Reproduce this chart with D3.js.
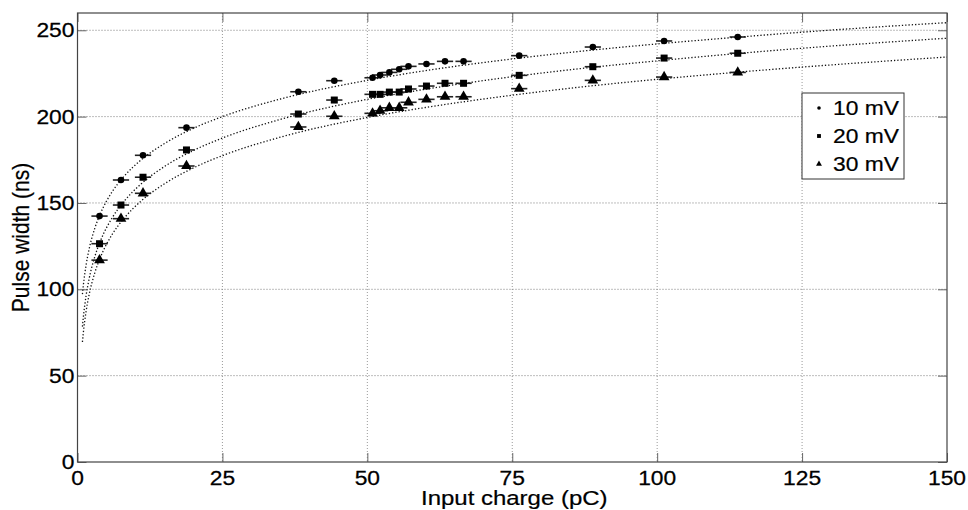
<!DOCTYPE html>
<html>
<head>
<meta charset="utf-8">
<script src="https://cdn.jsdelivr.net/npm/d3@7"></script>
<style>
  html, body { margin: 0; padding: 0; background: #fff; }
  svg { display: block; }
  text { font-family: "Liberation Sans", Arial, sans-serif; fill: #000; }
</style>
</head>
<body>
<svg id="chart" width="968" height="510"></svg>
<script>
// Input charge (pC) of each measurement
const charge = [3.8, 7.5, 11.3, 18.8, 38.1, 44.3, 50.9, 52.2, 53.8, 55.5, 57.1, 60.2, 63.4, 66.6, 76.2, 88.9, 101.2, 113.9];

// Measured pulse width (ns) for each threshold
const width10 = [142.4, 163.3, 177.6, 193.6, 214.4, 220.8, 222.5, 224.1, 225.6, 227.4, 229.1, 230.5, 232.0, 232.0, 235.3, 240.3, 243.8, 246.1];
const width20 = [126.4, 148.8, 164.9, 180.7, 201.5, 209.6, 212.9, 212.9, 214.2, 214.2, 216.0, 217.7, 219.3, 219.3, 223.9, 228.9, 233.9, 236.7];
const width30 = [116.9, 140.9, 155.6, 171.4, 194.0, 200.2, 201.9, 203.4, 205.1, 205.1, 208.3, 210.0, 211.5, 211.5, 216.2, 221.0, 222.9, 225.6];

// Horizontal uncertainty on the charge (pC)
const chargeErr = 1.4;

// Fitted trend curves, sampled along the charge axis
const fitCharge = [0.85, 1, 1.5, 2, 3, 4, 6, 8, 11, 15, 20, 25, 35, 50, 62, 75, 87, 100, 112, 125, 137, 150];
const fit10 = [97.2, 102.1, 114.4, 123.2, 135.5, 144.2, 156.6, 165.3, 175.0, 184.4, 193.2, 200.0, 210.2, 221.0, 227.6, 233.4, 237.9, 242.1, 245.5, 248.9, 251.7, 254.4];
const fit20 = [78.4, 83.6, 96.7, 106.0, 119.1, 128.4, 141.5, 150.8, 161.1, 171.1, 180.4, 187.6, 198.4, 210.0, 216.9, 223.1, 227.9, 232.3, 236.0, 239.6, 242.5, 245.4];
const fit30 = [69.5, 74.7, 87.6, 96.8, 109.7, 118.9, 131.9, 141.0, 151.2, 161.1, 170.3, 177.4, 188.1, 199.5, 206.3, 212.4, 217.2, 221.6, 225.2, 228.7, 231.6, 234.5];

const xTicks = [0, 25, 50, 75, 100, 125, 150];
const yTicks = [0, 50, 100, 150, 200, 250];
const seriesNames = ["10 mV", "20 mV", "30 mV"];

const series = [
  { name: seriesNames[0], values: width10, fit: fit10, shape: "circle" },
  { name: seriesNames[1], values: width20, fit: fit20, shape: "square" },
  { name: seriesNames[2], values: width30, fit: fit30, shape: "triangle" }
];

const svg = d3.select("#chart");
const plotL = 77.5, plotR = 947, plotT = 13, plotB = 462;
const x = d3.scaleLinear().domain([0, 150]).range([plotL, plotR]);
const y = d3.scaleLinear().domain([0, 260]).range([plotB, plotT]);
const stretch = 1.17;

// dotted grid
const grid = svg.append("g");
grid.selectAll("line.gx").data(xTicks.slice(1, -1)).join("line")
  .attr("x1", d => x(d)).attr("x2", d => x(d))
  .attr("y1", plotT).attr("y2", plotB)
  .attr("stroke", "#9a9a9a").attr("stroke-width", 1).attr("stroke-dasharray", "1,2");
grid.selectAll("line.gy").data(yTicks.slice(1)).join("line")
  .attr("x1", plotL).attr("x2", plotR)
  .attr("y1", d => y(d)).attr("y2", d => y(d))
  .attr("stroke", "#7a7a7a").attr("stroke-width", 1).attr("stroke-dasharray", "1,2");

// axes drawn with inward ticks on all four sides
const tickLen = 9;
function styleAxis(g) {
  g.select(".domain").remove();
  g.selectAll("line").attr("stroke", "#666");
}
svg.append("g").attr("transform", `translate(0,${plotB})`)
  .call(d3.axisBottom(x).tickValues(xTicks).tickSizeInner(-tickLen).tickSizeOuter(0).tickFormat(""))
  .call(styleAxis);
svg.append("g").attr("transform", `translate(0,${plotT})`)
  .call(d3.axisTop(x).tickValues(xTicks).tickSizeInner(-tickLen).tickSizeOuter(0).tickFormat(""))
  .call(styleAxis);
svg.append("g").attr("transform", `translate(${plotL},0)`)
  .call(d3.axisLeft(y).tickValues(yTicks).tickSizeInner(-tickLen).tickSizeOuter(0).tickFormat(""))
  .call(styleAxis);
svg.append("g").attr("transform", `translate(${plotR},0)`)
  .call(d3.axisRight(y).tickValues(yTicks).tickSizeInner(-tickLen).tickSizeOuter(0).tickFormat(""))
  .call(styleAxis);

// tick labels
svg.append("g").selectAll("text").data(xTicks).join("text")
  .attr("transform", d => `translate(${x(d)},${plotB + 23}) scale(${stretch},1)`)
  .attr("text-anchor", "middle").attr("font-size", 19.5)
  .attr("stroke", "#000").attr("stroke-width", 0.25)
  .text(d => d);
svg.append("g").selectAll("text").data(yTicks).join("text")
  .attr("transform", d => `translate(${plotL - 3},${y(d) + 7}) scale(${stretch},1)`)
  .attr("text-anchor", "end").attr("font-size", 19.5)
  .attr("stroke", "#000").attr("stroke-width", 0.25)
  .text(d => d);

// axis titles
svg.append("text")
  .attr("transform", `translate(${(plotL + plotR) / 2 + 2},${505}) scale(${stretch},1)`)
  .attr("text-anchor", "middle").attr("font-size", 20.5)
  .attr("stroke", "#000").attr("stroke-width", 0.2)
  .text("Input charge (pC)");
svg.append("text")
  .attr("transform", `translate(${29},${(plotT + plotB) / 2}) scale(${stretch},1) rotate(-90)`)
  .attr("text-anchor", "middle").attr("font-size", 21)
  .attr("stroke", "#000").attr("stroke-width", 0.2)
  .text("Pulse width (ns)");

// fitted curves
const line = d3.line().x(d => x(d[0])).y(d => y(d[1])).curve(d3.curveMonotoneX);
svg.append("g").selectAll("path").data(series).join("path")
  .attr("d", s => line(fitCharge.map((c, i) => [c, s.fit[i]])))
  .attr("fill", "none").attr("stroke", "#111").attr("stroke-width", 1.3)
  .attr("stroke-dasharray", "1.3,2");

// marker shapes
function marker(sel, shape, scale) {
  const k = scale || 1;
  if (shape === "circle") {
    sel.append("circle").attr("r", 3.3 * k);
  } else if (shape === "square") {
    sel.append("rect").attr("x", -3.5 * k).attr("y", -3.5 * k)
      .attr("width", 7 * k).attr("height", 7 * k);
  } else {
    sel.append("path").attr("d", d3.symbol().type(d3.symbolTriangle).size(50 * k * k)());
  }
}

// data points with horizontal error bars
series.forEach(s => {
  const g = svg.append("g");
  g.selectAll("line").data(s.values).join("line")
    .attr("x1", (v, i) => x(charge[i] - chargeErr))
    .attr("x2", (v, i) => x(charge[i] + chargeErr))
    .attr("y1", v => y(v)).attr("y2", v => y(v))
    .attr("stroke", "#222").attr("stroke-width", 1.6);
  g.selectAll("g").data(s.values).join("g")
    .attr("transform", (v, i) => `translate(${x(charge[i])},${y(v)})`)
    .attr("fill", "#000")
    .each(function () { marker(d3.select(this), s.shape); });
});

// plot frame
svg.append("rect")
  .attr("x", plotL).attr("y", plotT).attr("width", plotR - plotL).attr("height", plotB - plotT)
  .attr("fill", "none").attr("stroke", "#444").attr("stroke-width", 1.2);

// legend
const lg = svg.append("g").attr("transform", "translate(802,93)");
lg.append("rect").attr("width", 102).attr("height", 86)
  .attr("fill", "#fff").attr("stroke", "#333").attr("stroke-width", 1);
series.forEach((s, i) => {
  const row = lg.append("g").attr("transform", `translate(0,${15 + i * 28})`);
  const m = row.append("g").attr("transform", "translate(17,0)").attr("fill", "#000");
  marker(m, s.shape, 0.55);
  row.append("text")
    .attr("transform", `translate(31,7) scale(${stretch},1)`)
    .attr("font-size", 19.5)
    .attr("stroke", "#000").attr("stroke-width", 0.2)
    .text(s.name);
});
</script>
</body>
</html>
